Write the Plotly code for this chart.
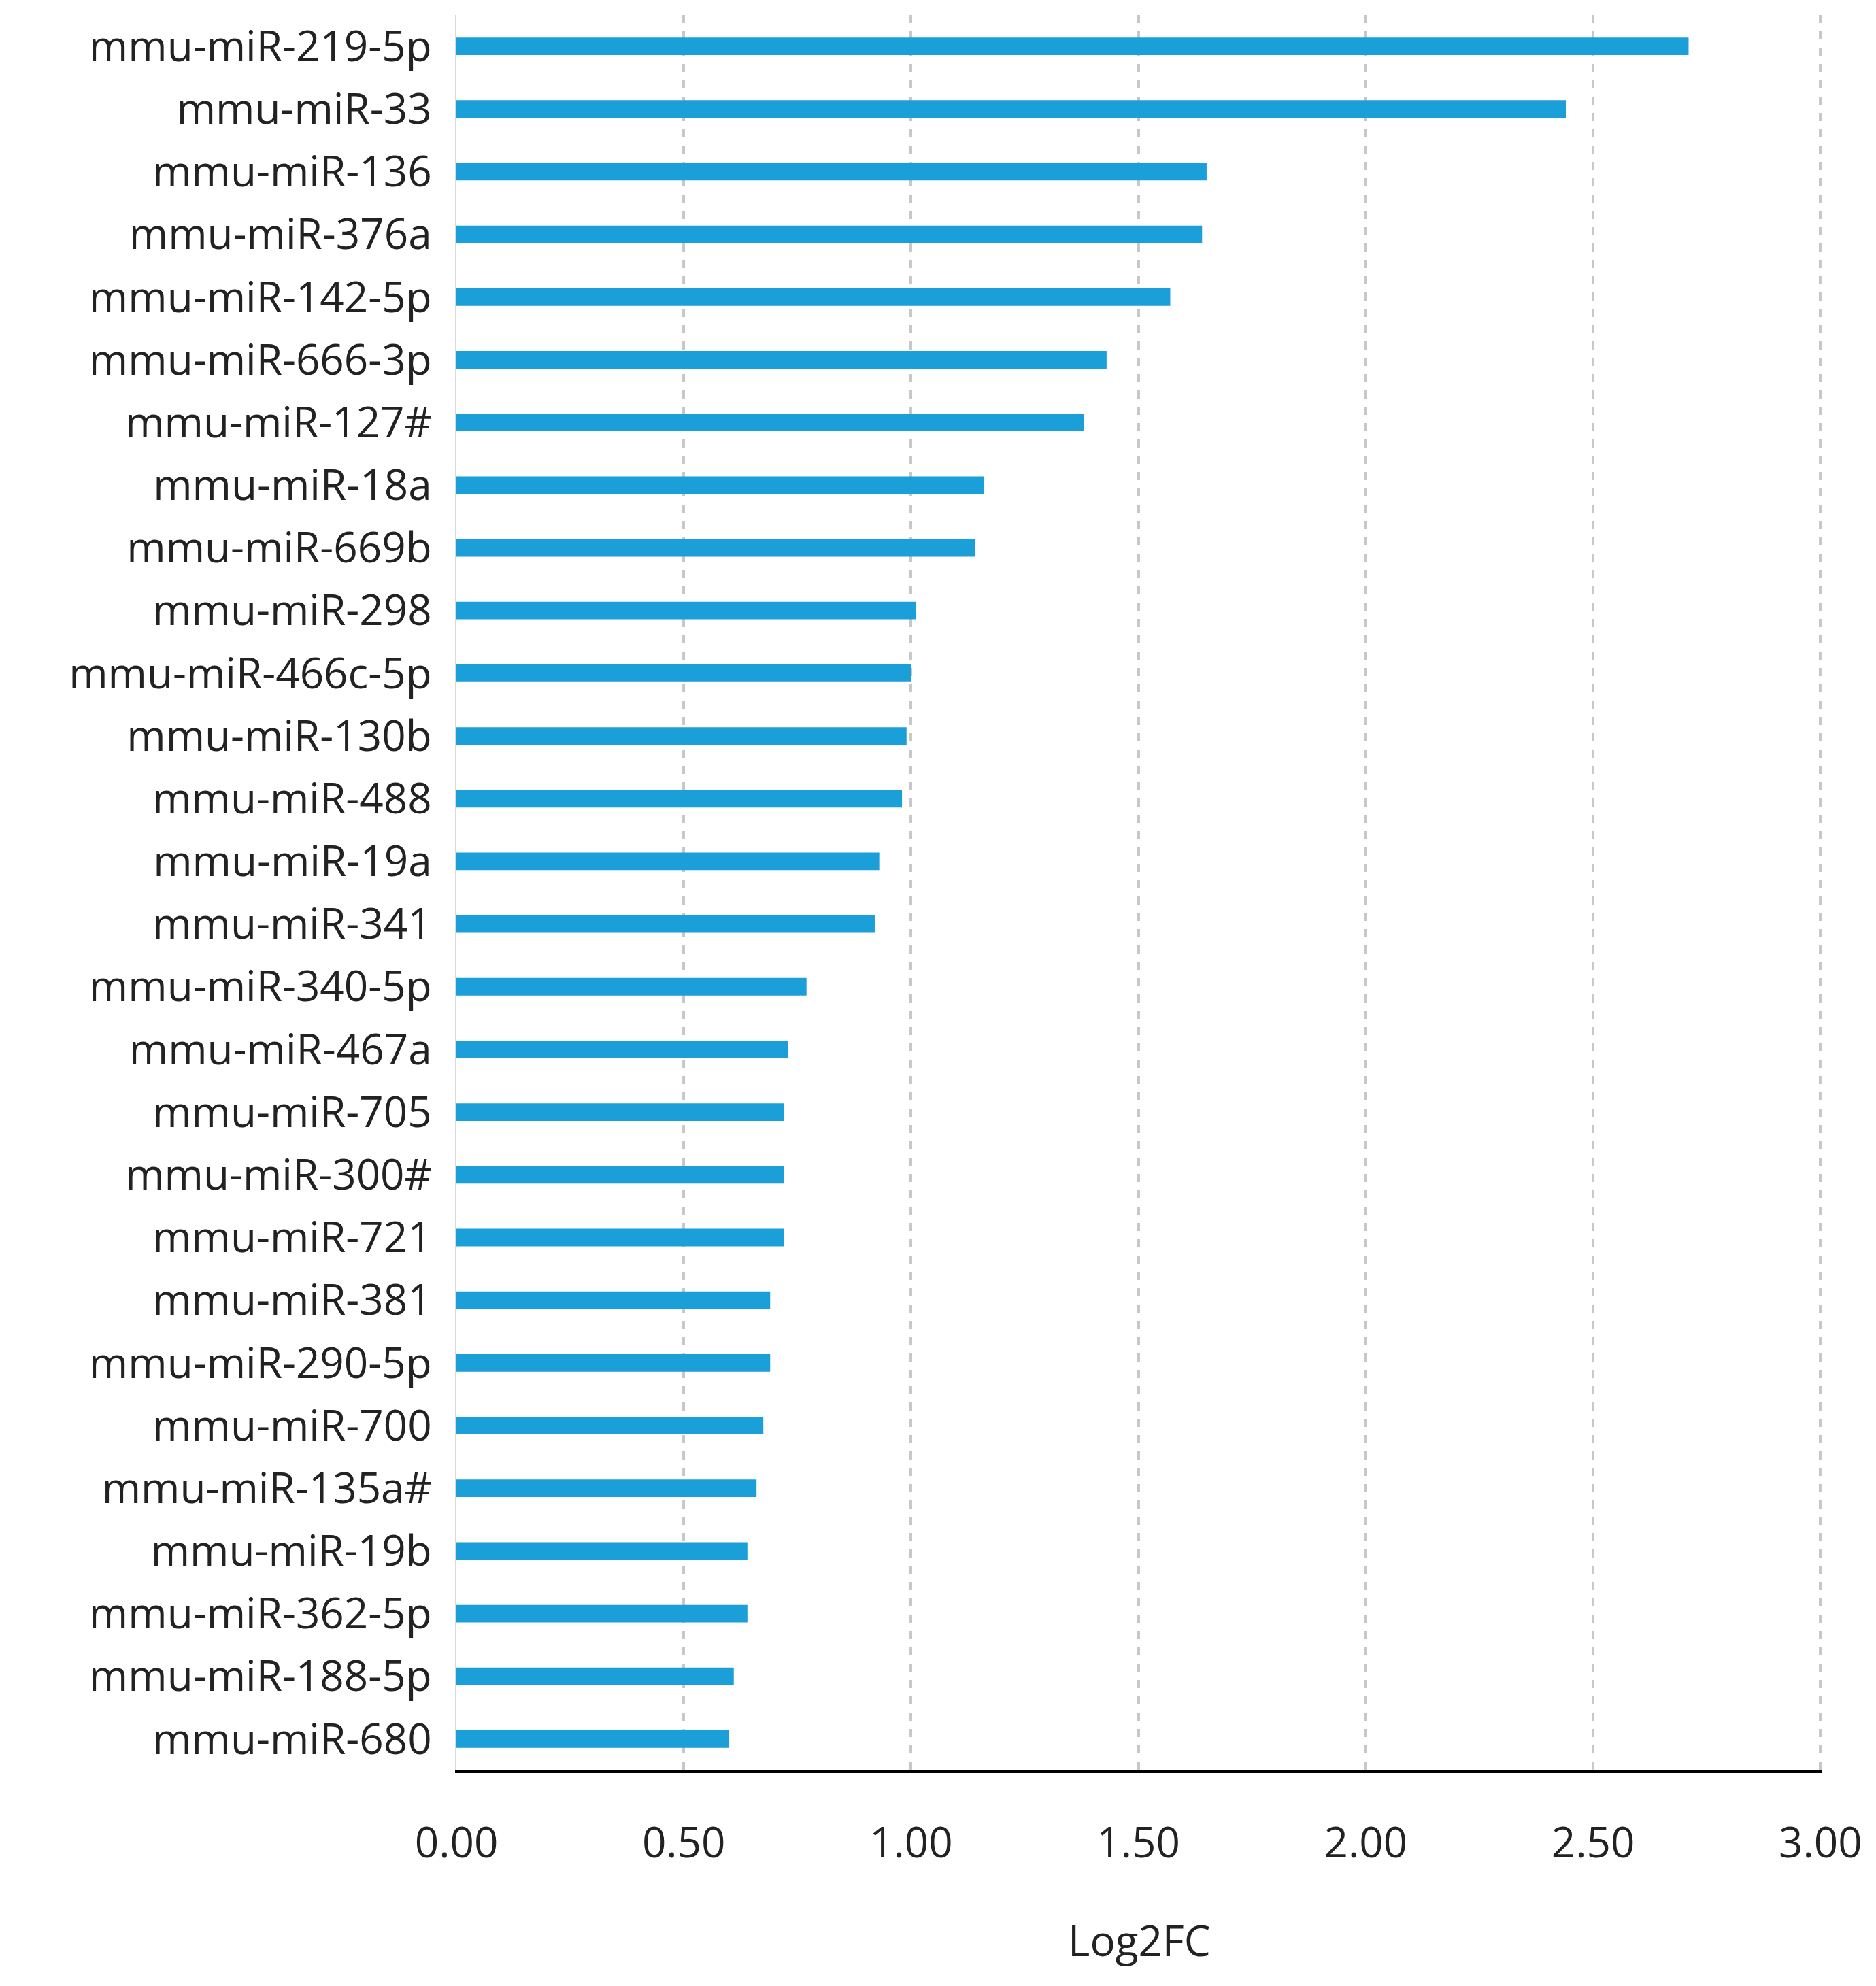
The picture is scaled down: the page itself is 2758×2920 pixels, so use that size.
import plotly.graph_objects as go

## data (top to bottom as shown)
mirnas = [
    'mmu-miR-219-5p', 'mmu-miR-33', 'mmu-miR-136', 'mmu-miR-376a', 'mmu-miR-142-5p',
    'mmu-miR-666-3p', 'mmu-miR-127#', 'mmu-miR-18a', 'mmu-miR-669b', 'mmu-miR-298',
    'mmu-miR-466c-5p', 'mmu-miR-130b', 'mmu-miR-488', 'mmu-miR-19a', 'mmu-miR-341',
    'mmu-miR-340-5p', 'mmu-miR-467a', 'mmu-miR-705', 'mmu-miR-300#', 'mmu-miR-721',
    'mmu-miR-381', 'mmu-miR-290-5p', 'mmu-miR-700', 'mmu-miR-135a#', 'mmu-miR-19b',
    'mmu-miR-362-5p', 'mmu-miR-188-5p', 'mmu-miR-680',
]
log2fc = [
    2.71, 2.44, 1.65, 1.64, 1.57,
    1.43, 1.38, 1.16, 1.14, 1.01,
    1.00, 0.99, 0.98, 0.93, 0.92,
    0.77, 0.73, 0.72, 0.72, 0.72,
    0.69, 0.69, 0.675, 0.66, 0.64,
    0.64, 0.61, 0.60,
]
x_ticks = [0, 0.5, 1.0, 1.5, 2.0, 2.5, 3.0]

fig = go.Figure(go.Bar(
    x=log2fc, y=mirnas, orientation='h',
    marker=dict(color='#1a9fd9', line=dict(width=0)),
))

fig.update_layout(
    width=2758, height=2920,
    plot_bgcolor='white', paper_bgcolor='white',
    margin=dict(l=663, r=87, t=14, b=325),
    bargap=0.72, showlegend=False,
    font=dict(family='Open Sans', size=62, color='#222222'),
)
fig.update_yaxes(
    categoryorder='array', categoryarray=mirnas[::-1],
    showgrid=False, ticks='', ticklen=0, ticklabelstandoff=22,
    showline=True, linecolor='#d9d9d9', linewidth=2,
    range=[-0.5, len(mirnas) - 0.5],
)
fig.update_xaxes(
    range=[0, 3.004], tickvals=x_ticks, tickformat='.2f',
    showgrid=True, gridcolor='#c8c8c8', griddash='dash', gridwidth=4,
    zeroline=False, showline=True, linecolor='black', linewidth=4,
    ticks='', ticklabelstandoff=50,
    title=dict(text='Log2FC', standoff=85, font=dict(size=62)),
)

fig.write_html('out.html')
